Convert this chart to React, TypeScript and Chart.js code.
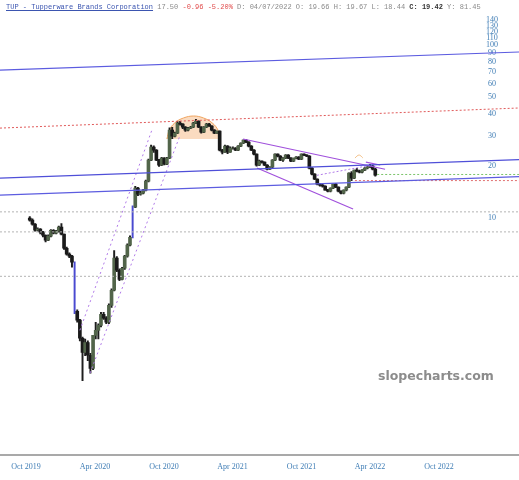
import React, { useEffect, useRef } from "react";
import { Chart, registerables } from "chart.js";

Chart.register(...registerables);

// Day numbers are days after 1 Oct 2019; weekly candles start 11 Oct 2019.
const firstWeekDay = 10;

const opens = [
  10.0, 9.74, 9.23, 8.52, 8.64, 8.3, 7.97, 7.46, 7.87, 8.52, 8.19, 8.41, 8.87, 8.08, 6.7, 6.19, 6.03, 5.56, 2.89, 2.57,
  2.02, 1.675, 1.91, 1.61, 1.35, 2.1, 2.245, 2.4, 2.78, 2.64, 2.5, 3.13, 3.83, 5.87, 5.0, 4.43, 5.13, 6.03, 6.98, 7.76,
  11.58, 14.92, 13.77, 13.96, 14.53, 16.38, 21.67, 25.77, 24.76, 21.67, 20.27, 22.26, 20.54, 22.26, 32.32, 29.85, 31.06, 35.49, 35.02, 33.65,
  32.32, 33.2, 33.65, 35.49, 36.45, 33.65, 31.48, 33.65, 35.02, 34.1, 32.32, 31.06, 31.9, 24.76, 24.11, 26.12, 24.11, 25.43, 25.43, 24.76,
  26.12, 27.18, 28.29, 27.54, 26.12, 24.76, 23.48, 20.27, 21.38, 21.1, 20.27, 19.21, 19.73, 21.67, 23.48, 22.86, 21.67, 22.26, 23.17, 22.26,
  21.38, 22.26, 22.56, 21.96, 23.48, 23.17, 22.86, 19.48, 17.98, 16.82, 15.74, 15.53, 15.32, 14.53, 14.33, 14.92, 15.74, 15.12, 14.33, 13.96,
  14.53, 15.12, 18.22, 17.04, 18.96, 18.71, 18.46, 18.96, 19.48, 19.73, 20.0, 19.21,
];
const highs = [
  10.2, 9.9, 9.3, 8.8, 8.7, 8.4, 8.0, 8.0, 8.6, 8.6, 8.5, 9.0, 9.3, 8.1, 6.8, 6.3, 6.1, 5.6, 2.95, 2.6,
  2.05, 2.0, 1.95, 1.65, 2.1, 2.5, 2.45, 2.85, 2.85, 2.7, 3.2, 3.9, 6.5, 6.0, 5.1, 5.2, 6.1, 7.1, 7.9, 11.8,
  15.3, 15.1, 14.3, 14.7, 16.6, 22.0, 26.5, 26.2, 24.9, 21.9, 22.5, 22.4, 22.5, 33.3, 33.5, 31.5, 36.2, 36.3, 35.3, 33.9,
  33.5, 34.0, 35.8, 37.3, 36.6, 33.9, 33.9, 35.4, 35.4, 34.3, 32.5, 31.9, 32.0, 25.0, 26.5, 26.3, 25.9, 25.9, 25.6, 26.3,
  27.3, 28.4, 28.5, 27.7, 26.3, 24.9, 23.6, 21.7, 21.5, 21.2, 20.4, 19.9, 21.8, 23.6, 23.6, 23.0, 22.4, 23.3, 23.3, 22.4,
  22.3, 22.7, 22.7, 23.6, 23.6, 23.3, 23.0, 19.6, 18.1, 16.9, 15.9, 15.7, 15.4, 14.7, 15.0, 15.8, 15.9, 15.2, 14.4, 14.6,
  15.2, 18.3, 18.6, 19.0, 19.4, 19.0, 19.1, 19.6, 19.9, 20.5, 20.3, 19.4,
];
const lows = [
  9.6, 9.1, 8.4, 8.4, 8.1, 7.8, 7.3, 7.4, 7.8, 8.1, 8.1, 8.3, 8.0, 6.6, 6.1, 5.9, 5.2, 2.8, 2.5, 1.95,
  1.15, 1.6, 1.5, 1.27, 1.33, 2.0, 2.0, 2.35, 2.6, 2.45, 2.45, 3.05, 3.8, 4.9, 4.35, 4.4, 5.05, 5.95, 6.9, 7.7,
  11.5, 13.5, 13.6, 13.8, 14.4, 16.2, 21.5, 24.0, 21.5, 19.9, 20.1, 20.3, 20.4, 22.1, 28.8, 29.5, 30.8, 34.5, 33.0, 31.8,
  32.0, 33.0, 33.4, 35.2, 33.4, 31.0, 31.2, 33.4, 33.9, 32.0, 30.8, 30.9, 24.5, 23.5, 24.0, 23.6, 24.0, 25.1, 24.6, 24.6,
  25.9, 27.0, 27.3, 25.8, 24.6, 23.2, 20.0, 20.1, 20.8, 20.1, 19.0, 19.1, 19.6, 21.5, 22.6, 21.5, 21.3, 22.1, 22.1, 21.2,
  21.2, 22.0, 21.8, 21.8, 23.0, 22.7, 19.3, 17.8, 16.7, 15.6, 15.3, 15.1, 14.5, 14.2, 14.2, 14.8, 15.0, 14.2, 13.8, 13.8,
  14.4, 15.0, 16.5, 16.9, 18.5, 18.3, 18.3, 18.8, 19.3, 19.6, 19.0, 17.5,
];
const closes = [
  9.74, 9.23, 8.52, 8.64, 8.3, 7.97, 7.46, 7.87, 8.52, 8.19, 8.41, 8.87, 8.08, 6.7, 6.19, 6.03, 5.56, 2.89, 2.57, 2.02,
  1.675, 1.91, 1.61, 1.35, 2.1, 2.245, 2.4, 2.78, 2.64, 2.5, 3.13, 3.83, 5.87, 5.0, 4.43, 5.13, 6.03, 6.98, 7.76, 11.58,
  14.92, 13.77, 13.96, 14.53, 16.38, 21.67, 25.77, 24.76, 21.67, 20.27, 22.26, 20.54, 22.26, 32.32, 29.85, 31.06, 35.49, 35.02, 33.65, 32.32,
  33.2, 33.65, 35.49, 36.45, 33.65, 31.48, 33.65, 35.02, 34.1, 32.32, 31.06, 31.9, 24.76, 24.11, 26.12, 24.11, 25.43, 25.43, 24.76, 26.12,
  27.18, 28.29, 27.54, 26.12, 24.76, 23.48, 20.27, 21.38, 21.1, 20.27, 19.21, 19.73, 21.67, 23.48, 22.86, 21.67, 22.26, 23.17, 22.26, 21.38,
  22.26, 22.56, 21.96, 23.48, 23.17, 22.86, 19.48, 17.98, 16.82, 15.74, 15.53, 15.32, 14.53, 14.33, 14.92, 15.74, 15.12, 14.33, 13.96, 14.53,
  15.12, 18.22, 17.04, 18.96, 18.71, 18.46, 18.96, 19.48, 19.73, 20.0, 19.21, 17.74,
];
// weeks whose move was a price gap (drawn as a thin blue line)
const gapWeeks = [17, 39];

const xTickDays = [0, 183, 366, 548, 731, 913, 1096];
const xTickLabels = ["Oct 2019", "Apr 2020", "Oct 2020", "Apr 2021", "Oct 2021", "Apr 2022", "Oct 2022"];
const yTickValues = [10, 20, 30, 40, 50, 60, 70, 80, 90, 100, 110, 120, 130, 140];

const xDomain = [-69, 1308.4];
const yDomain = [0.4243, 182.9];

// Drawn trendlines as [day, price] endpoints
const topBlueLine = [[-69, 71.9], [1308.4, 91.5]];
const redDottedTop = [[-69, 33.2], [1308.4, 43.4]];
const blueUpper = [[-69, 17.04], [1308.4, 21.82]];
const blueLower = [[-69, 13.59], [1308.4, 17.39]];
const grayLevels = [10.88, 8.33, 4.61];
const channelLeft = [[143, 2.245], [334, 32.3]];
const channelRight = [[170, 1.27], [409, 30.2]];
const wedgeUpper = [[576, 28.7], [953, 19.2]];
const wedgeLower = [[613, 19.5], [868, 11.3]];
const risingDotted = [[772, 17.7], [918, 20.3]];
const shortPurple = [[902, 21.1], [940, 20.3]];
const greenLevel = [[932, 17.9], [1308.4, 17.9]];
const redLevel = [[873, 16.5], [1308.4, 16.5]];
const topArc = [
  [515, 28.7], [510, 32.2], [494, 35.6], [471, 38.0], [445, 39.0], [418, 38.0], [395, 35.6], [380, 32.2], [374, 28.7],
];
const smallArc = [[873, 22.3], [884, 23.2], [894, 22.3]];

const LABEL_BLUE = "#3f7db5";

function lineDs(points: number[][], color: string, width = 1, dash: number[] = []) {
  return {
    type: "line" as const,
    data: points.map(([x, y]) => ({ x, y })),
    borderColor: color,
    borderWidth: width,
    borderDash: dash,
    pointRadius: 0,
    fill: false,
    tension: 0,
    order: 1,
  };
}

export default function App() {
  const ref = useRef<HTMLCanvasElement>(null);

  useEffect(() => {
    if (!ref.current) return;
    const weekDays = closes.map((_, i) => firstWeekDay + 7 * i);
    const wickData = weekDays.map((d, i) => ({ x: d, y: [lows[i], highs[i]] }));
    const bodyData = weekDays.map((d, i) => ({ x: d, y: [opens[i], closes[i]] }));
    const bodyColors = closes.map((c, i) =>
      gapWeeks.includes(i) ? "rgba(0,0,0,0)" : c >= opens[i] ? "#52654a" : "#1a1a1a"
    );
    const wickColors = closes.map((_, i) => (gapWeeks.includes(i) ? "#4a4ad0" : "#1e1e1e"));

    const datasets: any[] = [
      lineDs(topBlueLine, "#5c5ce0", 1.2),
      lineDs(redDottedTop, "#e05a5a", 1, [2, 2]),
      lineDs(blueUpper, "#4f4fd8", 1.4),
      lineDs(blueLower, "#5c5ce0", 1.2),
      ...grayLevels.map((v) => lineDs([[xDomain[0], v], [xDomain[1], v]], "#b4b4b4", 1, [2, 2])),
      lineDs(channelLeft, "#b07ae8", 1, [2, 3]),
      lineDs(channelRight, "#b07ae8", 1, [2, 3]),
      lineDs(wedgeUpper, "#a050dc", 1.2),
      lineDs(wedgeLower, "#a050dc", 1.2),
      lineDs(risingDotted, "#b07ae8", 1, [2, 2]),
      lineDs(shortPurple, "#a050dc", 1.2),
      lineDs(greenLevel, "#7cc46a", 1, [2, 2]),
      lineDs(redLevel, "#e07070", 1, [2, 2]),
      {
        ...lineDs(smallArc, "#f3c28c", 1),
        tension: 0.4,
      },
      {
        type: "bar",
        data: bodyData,
        backgroundColor: bodyColors,
        borderWidth: 0,
        barThickness: 3,
        grouped: false,
        order: 4,
      },
      {
        type: "bar",
        data: wickData,
        backgroundColor: wickColors,
        barThickness: 1.3,
        grouped: false,
        order: 5,
      },
      {
        type: "line",
        data: topArc.map(([x, y]) => ({ x, y })),
        borderColor: "#f0a560",
        borderWidth: 1,
        backgroundColor: "rgba(246, 190, 140, 0.55)",
        fill: "shape",
        pointRadius: 0,
        tension: 0.4,
        order: 10,
      },
    ];

    const chart = new Chart(ref.current, {
      type: "bar",
      data: { datasets },
      options: {
        animation: false,
        responsive: false,
        layout: { padding: { left: 0, right: 0, top: 0, bottom: 1 } },
        plugins: { legend: { display: false }, tooltip: { enabled: false }, title: { display: false } },
        scales: {
          x: {
            type: "linear",
            min: xDomain[0],
            max: xDomain[1],
            bounds: "data",
            offset: false,
            grid: { display: false, drawTicks: false },
            border: { display: true, color: "#a9a9a9", width: 2 },
            afterBuildTicks: (s: any) => {
              s.ticks = xTickDays.map((v) => ({ value: v }));
            },
            ticks: {
              autoSkip: false,
              maxRotation: 0,
              padding: 7,
              color: LABEL_BLUE,
              font: { family: "'Liberation Serif', 'DejaVu Serif', serif", size: 8 },
              callback: (v: any) => {
                const i = xTickDays.indexOf(Number(v));
                return i >= 0 ? xTickLabels[i] : "";
              },
            },
          },
          y: {
            type: "logarithmic",
            position: "right",
            min: yDomain[0],
            max: yDomain[1],
            grid: { display: false, drawTicks: false },
            border: { display: false },
            afterBuildTicks: (s: any) => {
              s.ticks = yTickValues.map((v) => ({ value: v }));
            },
            afterFit: (s: any) => {
              s.width = 0;
              s.paddingTop = 0;
              s.paddingBottom = 0;
            },
            ticks: {
              mirror: true,
              autoSkip: false,
              crossAlign: "center",
              padding: -21,
              color: LABEL_BLUE,
              font: { family: "'Liberation Serif', 'DejaVu Serif', serif", size: 8 },
              callback: (v: any) => String(v),
            },
          },
        },
      } as any,
    });
    return () => chart.destroy();
  }, []);

  return (
    <div style={{ position: "absolute", left: 0, top: 0, width: 519, height: 480, background: "#fff", overflow: "hidden" }}>
      <canvas ref={ref} width={519} height={480} style={{ display: "block", position: "absolute", left: 0, top: 0 }} />
      <div
        style={{
          position: "absolute",
          left: 6,
          top: 2,
          fontFamily: "'Liberation Mono', 'DejaVu Sans Mono', monospace",
          fontSize: 7,
          lineHeight: "10px",
          whiteSpace: "pre",
          color: "#8a8a8a",
        }}
      >
        <span style={{ color: "#3b55b0", textDecoration: "underline" }}>TUP - Tupperware Brands Corporation</span>
        {" 17.50 "}
        <span style={{ color: "#e04a4a" }}>-0.96 -5.20%</span>
        {" D: 04/07/2022 O: 19.66 H: 19.67 L: 18.44 "}
        <span style={{ color: "#333", fontWeight: "bold" }}>C: 19.42</span>
        {" Y: 81.45"}
      </div>
      <div
        style={{
          position: "absolute",
          left: 378,
          top: 368,
          fontFamily: "'DejaVu Sans', Verdana, sans-serif",
          fontWeight: "bold",
          fontSize: 12.5,
          color: "#8c8c8c",
          whiteSpace: "nowrap",
        }}
      >
        slopecharts.com
      </div>
    </div>
  );
}
